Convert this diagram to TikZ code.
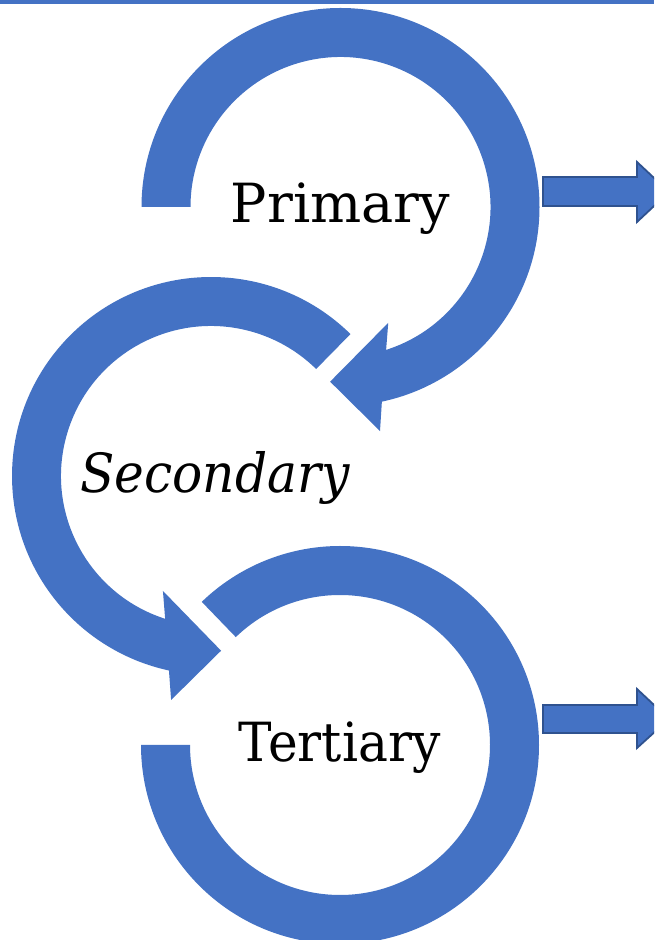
\documentclass[tikz,border=0pt]{standalone}
\usepackage{fontspec}
\setmainfont{DejaVu Serif}
\definecolor{arcblue}{HTML}{4472C4}
\definecolor{edgeblue}{HTML}{2F528F}
\begin{document}
\begin{tikzpicture}[x=1pt,y=1pt,
  band/.style={fill=arcblue},
  blockarrow/.style={fill=arcblue,draw=edgeblue,line width=1.8pt,line join=miter},
  label/.style={font=\fontsize{54}{60}\selectfont,anchor=base,inner sep=0pt}]
\useasboundingbox (0,0) rectangle (654,940);
\clip (0,0) rectangle (654,940);
\fill[white] (0,0) rectangle (654,940);
% top rule
\fill[arcblue] (0,935.5) rectangle (654,940);
% centres
\coordinate (P) at (340.5,733);
\coordinate (S) at (211,464);
\coordinate (T) at (340,195);
% Primary circular arrow
\fill[band] ([shift={(P)}]180:199) arc[start angle=180,end angle=-78,radius=199]
  -- ([shift={(P)}]-80:227.5) -- ([shift={(P)}]-93.4:175) -- ([shift={(P)}]-67.6:125.3)
  -- ([shift={(P)}]-72.3:150) arc[start angle=-72.3,end angle=180,radius=150] -- cycle;
% Secondary circular arrow
\fill[band] ([shift={(S)}]45.5:199) arc[start angle=45.5,end angle=257.8,radius=199]
  -- ([shift={(S)}]259.9:227.5) -- ([shift={(S)}]273.3:175) -- ([shift={(S)}]247.3:124.6)
  -- ([shift={(S)}]252.2:150) arc[start angle=252.2,end angle=45.5,radius=150] -- cycle;
% Tertiary ring
\fill[band] ([shift={(T)}]180:199) arc[start angle=180,end angle=494,radius=199]
  -- ([shift={(T)}]134:150) arc[start angle=494,end angle=180,radius=150] -- cycle;
% labels
\node[label] (prim) at (340.5,717) {Primary};
\node[label] (sec) at (215,447) {\scalebox{0.93}[1]{\itshape Secondary}};
\node[label] (ter) at (339.5,178) {\scalebox{0.93}[1]{Tertiary}};
% block arrows
\draw[blockarrow] (543,763) -- (637,763) -- (637,778) -- (669,748) -- (637,718) -- (637,734) -- (543,734) -- cycle;
\draw[blockarrow] (543,235) -- (637,235) -- (637,251) -- (669,221) -- (637,192) -- (637,207) -- (543,207) -- cycle;
\end{tikzpicture}
\end{document}
